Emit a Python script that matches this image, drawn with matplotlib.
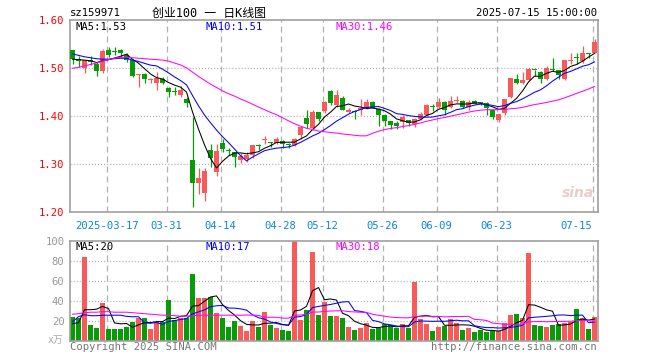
import matplotlib
matplotlib.use('Agg')
import matplotlib.pyplot as plt
import matplotlib.transforms as mtransforms
import numpy as np
import pandas as pd

plt.rcParams['lines.scale_dashes'] = False
MONO = ['DejaVu Sans Mono', 'Noto Sans CJK SC']

# ---------------- data ----------------
holidays = ['2025-04-04', '2025-05-01', '2025-05-02', '2025-05-05', '2025-06-02']
dates = [d.strftime('%Y-%m-%d') for d in pd.bdate_range('2025-03-07', '2025-07-15')
         if d.strftime('%Y-%m-%d') not in holidays]

opens = [1.538, 1.519, 1.500, 1.517, 1.510, 1.495, 1.539, 1.536, 1.539, 1.528,
         1.517, 1.485, 1.489, 1.475, 1.470, 1.477, 1.460, 1.452, 1.444, 1.436,
         1.309, 1.260, 1.240, 1.330, 1.285, 1.345, 1.329, 1.325, 1.309, 1.310,
         1.319, 1.340, 1.350, 1.345, 1.345, 1.349, 1.341, 1.340, 1.361, 1.397,
         1.375, 1.408, 1.412, 1.453, 1.424, 1.439, 1.410, 1.412, 1.414, 1.418,
         1.430, 1.416, 1.403, 1.390, 1.387, 1.389, 1.392, 1.385, 1.394, 1.403,
         1.421, 1.419, 1.430, 1.419, 1.432, 1.432, 1.419, 1.432, 1.428, 1.427,
         1.413, 1.392, 1.406, 1.441, 1.478, 1.469, 1.476, 1.497, 1.492, 1.477,
         1.498, 1.496, 1.477, 1.516, 1.523, 1.515, 1.530, 1.531]
highs = [1.539, 1.526, 1.518, 1.526, 1.514, 1.540, 1.544, 1.545, 1.541, 1.531,
         1.518, 1.488, 1.490, 1.479, 1.493, 1.481, 1.462, 1.461, 1.463, 1.440,
         1.399, 1.292, 1.293, 1.342, 1.342, 1.352, 1.334, 1.326, 1.323, 1.325,
         1.341, 1.342, 1.359, 1.347, 1.356, 1.351, 1.345, 1.354, 1.378, 1.413,
         1.413, 1.409, 1.432, 1.455, 1.455, 1.442, 1.418, 1.414, 1.437, 1.437,
         1.432, 1.417, 1.404, 1.391, 1.391, 1.403, 1.393, 1.396, 1.410, 1.426,
         1.426, 1.439, 1.431, 1.442, 1.442, 1.434, 1.434, 1.433, 1.430, 1.430,
         1.415, 1.405, 1.437, 1.480, 1.488, 1.492, 1.500, 1.497, 1.494, 1.505,
         1.521, 1.497, 1.518, 1.531, 1.531, 1.546, 1.531, 1.561]
lows = [1.510, 1.503, 1.491, 1.507, 1.483, 1.490, 1.524, 1.528, 1.524, 1.514,
        1.481, 1.462, 1.470, 1.469, 1.455, 1.467, 1.440, 1.444, 1.440, 1.419,
        1.212, 1.239, 1.224, 1.295, 1.276, 1.326, 1.320, 1.295, 1.303, 1.305,
        1.314, 1.330, 1.342, 1.337, 1.343, 1.333, 1.333, 1.338, 1.352, 1.375,
        1.371, 1.390, 1.406, 1.424, 1.420, 1.413, 1.406, 1.394, 1.403, 1.416,
        1.418, 1.380, 1.380, 1.373, 1.373, 1.375, 1.380, 1.378, 1.392, 1.400,
        1.412, 1.417, 1.403, 1.417, 1.427, 1.418, 1.414, 1.425, 1.424, 1.403,
        1.394, 1.389, 1.403, 1.439, 1.467, 1.467, 1.476, 1.483, 1.470, 1.476,
        1.495, 1.477, 1.476, 1.510, 1.510, 1.512, 1.522, 1.531]
closes = [1.519, 1.516, 1.517, 1.513, 1.495, 1.537, 1.528, 1.534, 1.531, 1.517,
          1.484, 1.487, 1.477, 1.476, 1.479, 1.469, 1.451, 1.450, 1.455, 1.427,
          1.262, 1.272, 1.286, 1.314, 1.328, 1.331, 1.327, 1.316, 1.317, 1.319,
          1.340, 1.339, 1.352, 1.344, 1.352, 1.342, 1.340, 1.353, 1.377, 1.384,
          1.408, 1.394, 1.430, 1.427, 1.444, 1.414, 1.413, 1.409, 1.417, 1.429,
          1.418, 1.403, 1.391, 1.382, 1.379, 1.399, 1.387, 1.394, 1.405, 1.424,
          1.420, 1.430, 1.413, 1.432, 1.434, 1.419, 1.430, 1.426, 1.427, 1.417,
          1.399, 1.404, 1.436, 1.479, 1.469, 1.476, 1.498, 1.496, 1.477, 1.501,
          1.497, 1.486, 1.517, 1.518, 1.522, 1.531, 1.529, 1.555]
volumes = [23.5, 22.4, 83.5, 15.7, 12.4, 37.5, 11.5, 11.5, 11.5, 14.0,
           19.0, 23.0, 23.0, 11.4, 19.0, 19.0, 40.7, 20.7, 22.4, 22.4,
           66.7, 43.0, 43.0, 43.4, 28.0, 23.0, 14.0, 20.0, 15.0, 9.7,
           20.0, 14.0, 28.4, 15.7, 12.4, 10.7, 9.7, 100.0, 20.7, 30.7,
           88.7, 25.7, 38.7, 25.0, 25.0, 22.7, 13.8, 10.7, 12.7, 17.7,
           11.8, 12.4, 16.4, 15.7, 13.0, 16.7, 13.0, 58.4, 21.7, 16.7,
           9.7, 14.0, 15.0, 21.7, 18.0, 10.7, 13.0, 9.0, 10.7, 9.0,
           9.7, 9.7, 17.4, 25.7, 26.7, 22.4, 87.7, 15.7, 14.7, 13.7,
           15.7, 17.0, 18.0, 19.0, 31.7, 22.4, 11.7, 23.7]

# moving-average values at the start of the window
ma5_head = [1.519, 1.518, 1.517, 1.516]
ma10_head = [1.530, 1.527, 1.524, 1.522, 1.520, 1.519, 1.519, 1.520, 1.521]
ma30_head = [1.500, 1.502, 1.505, 1.508, 1.511, 1.515, 1.518, 1.521, 1.523, 1.523,
             1.522, 1.521, 1.520, 1.519, 1.518, 1.517, 1.515, 1.511, 1.507, 1.501,
             1.492, 1.483, 1.475, 1.467, 1.460, 1.453, 1.447, 1.442, 1.436]
vma5_head = [17, 18, 31, 31]
vma10_head = [19, 24, 26, 25, 25, 25.5, 25.5, 25.5, 25.5]
vma30_head = [26.5, 27, 28, 28.5, 28.5, 29, 29, 28.5, 28.5, 28.5,
              28, 27.5, 27, 26.5, 26, 25.5, 25.5, 25, 24.5, 24.5,
              25, 25.5, 25.5, 25.5, 25.5, 25.5, 25.5, 25.5, 25.5]

tick_dates = ['2025-03-17', '2025-03-31', '2025-04-14', '2025-04-28', '2025-05-12',
              '2025-05-26', '2025-06-09', '2025-06-23', '2025-07-15']
tick_labels = ['2025-03-17', '03-31', '04-14', '04-28', '05-12', '05-26', '06-09', '06-23', '07-15']
price_ticks = [1.20, 1.30, 1.40, 1.50, 1.60]
vol_ticks = [20, 40, 60, 80, 100]

stock_code = 'sz159971'
title_text = '创业100 一 日K线图'
time_text = '2025-07-15 15:00:00'
price_ma_text = ['MA5:1.53', 'MA10:1.51', 'MA30:1.46']
vol_ma_text = ['MA5:20', 'MA10:17', 'MA30:18']


def moving_avg(vals, n, head):
    out = []
    for i in range(len(vals)):
        if i >= n - 1:
            out.append(float(np.mean(vals[i - n + 1:i + 1])))
        else:
            out.append(head[i])
    return out


# ---------------- figure ----------------
W, H = 660, 360
fig = plt.figure(figsize=(6.6, 3.6), dpi=100)
fig.patch.set_facecolor('white')

RED = '#f85a5a'
GREEN = '#079b07'
BORDER = '#a0a0a0'
GRID = '#b0b0b0'
BLUE_LBL = '#0a86d6'
MA_COLORS = ['#000000', '#0000ff', '#ff00ff']

left, right = 70, 597.7
ax = fig.add_axes([left / W, 1 - 212.3 / H, (right - left) / W, 192 / H])
axv = fig.add_axes([left / W, 1 - 340.7 / H, (right - left) / W, 100 / H])

n = len(closes)
x = np.arange(n)
o = np.array(opens); c = np.array(closes); hi = np.array(highs); lo = np.array(lows)
cols = [RED if c[i] >= o[i] else GREEN for i in range(n)]
xlim = (-0.42, n - 1 + 0.53)
tick_pos = [dates.index(d) - 0.3 for d in tick_dates]

for a in (ax, axv):
    a.set_xlim(*xlim)
    for sp in a.spines.values():
        sp.set_color(BORDER)
        sp.set_linewidth(1.2)
    a.set_xticks([])
    a.tick_params(length=0)
    for tp in tick_pos:
        a.axvline(tp, color=GRID, lw=0.9, ls=(0, (4.3, 2.9)), zorder=0)

# price panel
ax.set_ylim(1.20, 1.60)
for yv in price_ticks[1:-1]:
    ax.axhline(yv, color=GRID, lw=0.9, ls=(0, (0.8, 1.4)), zorder=0)
ax.vlines(x, lo, hi, colors=cols, lw=0.9, zorder=2)
body_bottom = np.minimum(o, c)
body_h = np.maximum(np.abs(c - o), 0.0022)
ax.bar(x, body_h, bottom=body_bottom, width=0.78, color=cols, linewidth=0, zorder=3)
ma_lines = [moving_avg(closes, 5, ma5_head), moving_avg(closes, 10, ma10_head),
            moving_avg(closes, 30, ma30_head)]
for ml, col in zip(ma_lines, MA_COLORS):
    ax.plot(x, ml, color=col, lw=0.75, zorder=4)
ax.set_yticks(price_ticks)
ax.set_yticklabels(['%.2f' % v for v in price_ticks], color='#ff0000',
                   family=MONO, fontsize=7.6)
ax.tick_params(axis='y', pad=4)

# x date labels
trans = mtransforms.blended_transform_factory(ax.transData, ax.transAxes)
for k, (tp, lbl) in enumerate(zip(tick_pos, tick_labels)):
    ha = 'right' if k == len(tick_labels) - 1 else 'center'
    ax.text(tp, -0.045, lbl, transform=trans, ha=ha, va='top', color=BLUE_LBL,
            family=MONO, fontsize=7.6)

# watermark
fig.text(578 / W, 1 - 193 / H, 'sina', ha='center', va='center', fontsize=10,
         style='italic', weight='bold', color='#e2bcbc', alpha=0.75, family='DejaVu Sans')

# volume panel
axv.set_ylim(0, 100)
for yv in vol_ticks[:-1]:
    axv.axhline(yv, color=GRID, lw=0.9, ls=(0, (0.8, 1.4)), zorder=0)
axv.bar(x, volumes, width=0.8, color=cols, linewidth=0, zorder=2)
vma_lines = [moving_avg(volumes, 5, vma5_head), moving_avg(volumes, 10, vma10_head),
             moving_avg(volumes, 30, vma30_head)]
for ml, col in zip(vma_lines, MA_COLORS):
    axv.plot(x, ml, color=col, lw=0.75, zorder=4)
axv.set_yticks(vol_ticks)
axv.set_yticklabels([str(v) for v in vol_ticks], color='#999999', family=MONO, fontsize=7.6)
axv.tick_params(axis='y', pad=4)
fig.text(63 / W, 1 - 340 / H, 'x万', ha='right', va='center', color='#aaaaaa',
         family=MONO, fontsize=7)

# header texts
fig.text(70 / W, 1 - 13.5 / H, stock_code, ha='left', va='center', family=MONO, fontsize=7.6)
fig.text(209 / W, 1 - 13.5 / H, title_text, ha='center', va='center', family=MONO, fontsize=8.6)
fig.text(597 / W, 1 - 13.5 / H, time_text, ha='right', va='center', family=MONO, fontsize=7.6)
for txt, xp, col in zip(price_ma_text, [75, 205, 335], MA_COLORS):
    fig.text(xp / W, 1 - 26.5 / H, txt, ha='left', va='center', color=col, family=MONO, fontsize=7.6)
for txt, xp, col in zip(vol_ma_text, [75, 205, 335], MA_COLORS):
    fig.text(xp / W, 1 - 247 / H, txt, ha='left', va='center', color=col, family=MONO, fontsize=7.6)

fig.text(70 / W, 1 - 346.5 / H, 'Copyright 2025 SINA.COM', ha='left', va='center',
         color='#777777', family=MONO, fontsize=7.6)
fig.text(597 / W, 1 - 346.5 / H, 'http://finance.sina.com.cn', ha='right', va='center',
         color='#777777', family=MONO, fontsize=7.6)

fig.savefig('out.png', dpi=100, facecolor='white')
